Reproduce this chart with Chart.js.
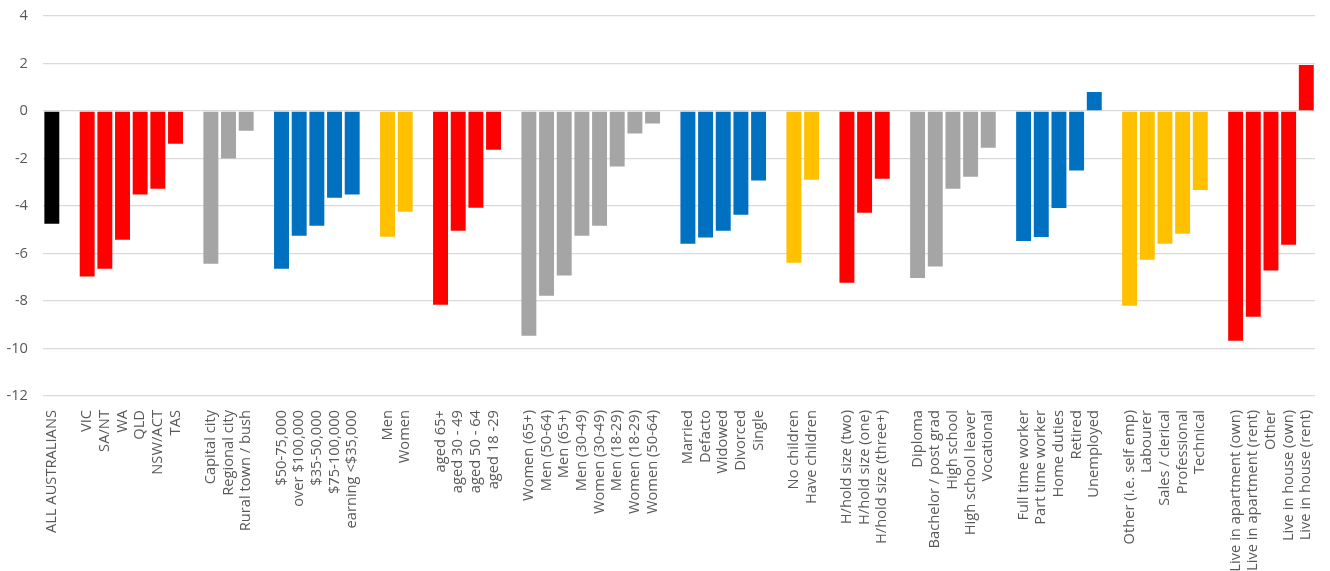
<!DOCTYPE html>
<html>
<head>
<meta charset="utf-8">
<script src="https://cdn.jsdelivr.net/npm/chart.js@4/dist/chart.umd.min.js"></script>
<style>
    html, body { margin: 0; padding: 0; background: #fff; overflow: hidden; }
    #wrap { width: 1330px; height: 571px; }
</style>
</head>
<body>
<div id="wrap"><canvas id="chart"></canvas></div>
<script>
// Categories in order; '' marks the empty slot between two groups
const categories = [
    'ALL AUSTRALIANS', '',
    'VIC', 'SA/NT', 'WA', 'QLD', 'NSW/ACT', 'TAS', '',
    'Capital city', 'Regional city', 'Rural town / bush', '',
    '$50-75,000', 'over $100,000', '$35-50,000', '$75-100,000', 'earning <$35,000', '',
    'Men', 'Women', '',
    'aged 65+', 'aged 30 - 49', 'aged 50 - 64', 'aged 18 -29', '',
    'Women (65+)', 'Men (50-64)', 'Men (65+)', 'Men (30-49)', 'Women (30-49)', 'Men (18-29)', 'Women (18-29)', 'Women (50-64)', '',
    'Married', 'Defacto', 'Widowed', 'Divorced', 'Single', '',
    'No children', 'Have children', '',
    'H/hold size (two)', 'H/hold size (one)', 'H/hold size (three+)', '',
    'Diploma', 'Bachelor / post grad', 'High school', 'High school leaver', 'Vocational', '',
    'Full time worker', 'Part time worker', 'Home duties', 'Retired', 'Unemployed', '',
    'Other (i.e. self emp)', 'Labourer', 'Sales / clerical', 'Professional', 'Technical', '',
    'Live in apartment (own)', 'Live in apartment (rent)', 'Other', 'Live in house (own)', 'Live in house (rent)'
];

const values = [
    -4.75, null,
    -6.97, -6.64, -5.42, -3.52, -3.27, -1.38, null,
    -6.43, -2.0, -0.83, null,
    -6.64, -5.25, -4.83, -3.65, -3.52, null,
    -5.29, -4.24, null,
    -8.16, -5.04, -4.07, -1.63, null,
    -9.46, -7.78, -6.93, -5.25, -4.83, -2.34, -0.95, -0.53, null,
    -5.59, -5.33, -5.04, -4.37, -2.93, null,
    -6.39, -2.89, null,
    -7.23, -4.28, -2.85, null,
    -7.03, -6.55, -3.27, -2.77, -1.55, null,
    -5.47, -5.31, -4.08, -2.51, 0.8, null,
    -8.2, -6.26, -5.59, -5.17, -3.33, null,
    -9.67, -8.66, -6.72, -5.63, 1.94
];

const yTicks = [4, 2, 0, -2, -4, -6, -8, -10, -12];

// one colour per group, in group order
const groupColours = [
    '#000000', '#FF0000', '#A5A5A5', '#0070C0', '#FFC000', '#FF0000', '#A5A5A5',
    '#0070C0', '#FFC000', '#FF0000', '#A5A5A5', '#0070C0', '#FFC000', '#FF0000'
];

// walk the categories, moving to the next colour at each gap
const barColours = [];
let g = 0;
categories.forEach(c => {
    if (c === '') { barColours.push('rgba(0,0,0,0)'); g++; }
    else barColours.push(groupColours[g]);
});

const textColour = '#595959';
const font = { family: '"Open Sans", sans-serif', size: 14.7 };

new Chart(document.getElementById('chart'), {
    type: 'bar',
    data: {
        labels: categories,
        datasets: [{
            data: values,
            backgroundColor: barColours,
            borderWidth: 0,
            barPercentage: 0.845,
            categoryPercentage: 1.0
        }]
    },
    options: {
        responsive: true,
        maintainAspectRatio: false,
        animation: false,
        layout: { padding: { top: 16, right: 8, left: 0, bottom: 0 } },
        plugins: {
            legend: { display: false },
            tooltip: { enabled: false }
        },
        scales: {
            x: {
                grid: { display: false },
                border: { display: false },
                ticks: {
                    color: textColour,
                    font: font,
                    autoSkip: false,
                    minRotation: 90,
                    maxRotation: 90,
                    padding: 6
                },
                afterFit: (scale) => { scale.height = 175; }
            },
            y: {
                min: Math.min(...yTicks),
                max: Math.max(...yTicks),
                grid: { color: '#d9d9d9', lineWidth: 1.3, drawTicks: false },
                border: { display: false },
                ticks: {
                    stepSize: 2,
                    color: textColour,
                    font: font,
                    padding: 15
                },
                afterFit: (scale) => {
                    scale.width = 43;
                    // tick padding would otherwise push the plot top down
                    scale.paddingTop = 0;
                    scale.paddingBottom = 0;
                }
            }
        }
    }
});
</script>
</body>
</html>
